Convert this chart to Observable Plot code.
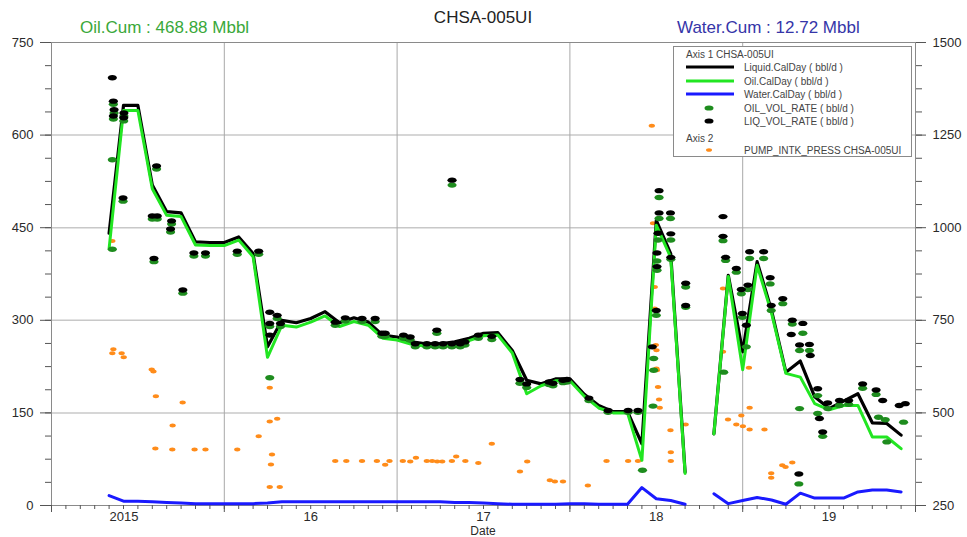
<!DOCTYPE html>
<html>
<head>
<meta charset="utf-8">
<script src="https://cdn.jsdelivr.net/npm/d3@7"></script>
<script src="https://cdn.jsdelivr.net/npm/@observablehq/plot@0.6"></script>
<style>
  html, body { margin: 0; padding: 0; background: #fff; }
  #wrap { position: relative; width: 967px; height: 537px; font-family: "Liberation Sans", Arial, sans-serif; overflow: hidden; }
  #wrap > svg { position: absolute; left: 0; top: 0; }
  .t { position: absolute; white-space: nowrap; line-height: 1; }
</style>
</head>
<body>
<div id="wrap"></div>
<script>
// ---------- data ----------
const wellName = "CHSA-005UI";
const oilCumText = "Oil.Cum : 468.88 Mbbl";
const waterCumText = "Water.Cum : 12.72 Mbbl";

const months = [
  "2015-05","2015-06","2015-07","2015-08","2015-09","2015-10","2015-11","2015-12",
  "2016-01","2016-02","2016-03","2016-04","2016-05","2016-06","2016-07","2016-08","2016-09","2016-10","2016-11","2016-12",
  "2017-01","2017-02","2017-03","2017-04","2017-05","2017-06","2017-07","2017-08","2017-09","2017-10","2017-11","2017-12",
  "2018-01","2018-02","2018-03","2018-04","2018-05","2018-06","2018-07","2018-08","2018-09","2018-10","2018-11","2018-12",
  "2019-01","2019-02","2019-03","2019-04","2019-05","2019-06","2019-07","2019-08","2019-09","2019-10","2019-11","2019-12"
];
const liquidCalDay = [441,648,648,519,476,474,427,426,
  426,435,408,257,300,296,303,314,296,304,297,276,
  273,265,262,262,265,271,279,280,251,203,197,205,
  205,180,162,152,152,100,462,408,54,null,116,373,
  249,395,316,216,234,176,157,169,181,134,133,114];
const oilCalDay = [416,640,640,513,470,468,422,421,
  421,430,403,240,292,289,297,307,290,298,292,271,
  268,261,258,257,260,267,275,276,247,181,194,202,
  202,177,158,150,150,73,454,402,52,null,116,371,
  220,389,312,214,208,165,155,162,162,111,111,92];
const waterCalDay = [16,7,7,6,5,4,3,3,
  3,3,3,4,6,6,6,6,6,6,6,6,
  6,6,6,6,5,5,4,3,2,2,2,2,
  3,3,2,2,2,29,11,8,2,null,19,3,
  8,13,9,2,20,12,12,12,22,25,25,22];

// [decimal year, bbl/d]
const liqVolRate = [
  [2015.352,693],[2015.358,655],[2015.362,641],[2015.358,631],[2015.419,636],[2015.418,628],[2015.414,498],[2015.608,550],
  [2015.583,469],[2015.612,469],[2015.695,461],[2015.689,448],[2015.593,400],[2015.760,349],[2015.824,409],[2015.891,409],
  [2016.075,412],[2016.199,412],[2016.263,313],[2016.306,308],[2016.263,295],[2016.325,295],[2016.263,276],[2016.642,297],
  [2016.700,304],[2016.797,303],[2016.873,303],[2016.912,279],[2016.931,279],[2017.037,276],[2017.076,273],[2017.105,262],
  [2017.172,262],[2017.220,262],[2017.266,262],[2017.317,262],[2017.365,262],[2017.230,284],[2017.318,527],[2017.393,265],
  [2017.470,276],[2017.548,274],[2017.711,204],[2017.750,197],[2017.879,200],[2017.902,198],[2017.960,203],[2017.983,204],
  [2018.110,174],[2018.221,154],[2018.337,154],[2018.394,154],[2018.516,510],[2018.516,474],[2018.510,441],[2018.504,409],
  [2018.504,387],[2018.500,316],[2018.477,257],[2018.582,474],[2018.584,440],[2018.584,402],[2018.670,360],[2018.670,324],
  [2018.886,468],[2018.886,436],[2018.901,402],[2018.963,384],[2018.992,350],[2018.998,311],[2019.021,292],[2019.040,411],
  [2019.121,411],[2019.030,357],[2019.159,369],[2019.165,324],[2019.232,335],[2019.287,300],[2019.281,277],[2019.348,295],
  [2019.329,260],[2019.386,261],[2019.391,243],[2019.434,189],[2019.444,141],[2019.463,119],[2019.325,51],[2019.492,166],
  [2019.560,170],[2019.613,170],[2019.694,197],[2019.772,187],[2019.810,170],[2019.906,162],[2019.941,165]
];
const oilVolRate = [
  [2015.352,560],[2015.352,415],[2015.358,650],[2015.362,636],[2015.358,626],[2015.419,631],[2015.418,623],[2015.414,493],
  [2015.608,545],[2015.583,464],[2015.612,464],[2015.695,456],[2015.689,443],[2015.593,395],[2015.760,344],[2015.824,404],
  [2015.891,404],[2016.075,407],[2016.199,407],[2016.263,207],[2016.306,303],[2016.263,290],[2016.325,290],[2016.642,292],
  [2016.700,299],[2016.797,298],[2016.873,298],[2016.912,274],[2016.931,274],[2017.037,271],[2017.076,268],[2017.105,257],
  [2017.172,257],[2017.220,257],[2017.266,257],[2017.317,257],[2017.365,257],[2017.230,279],[2017.318,519],[2017.393,260],
  [2017.470,271],[2017.548,269],[2017.711,198],[2017.750,191],[2017.879,196],[2017.902,194],[2017.960,199],[2017.983,200],
  [2018.110,170],[2018.221,151],[2018.337,151],[2018.394,151],[2018.420,57],[2018.516,499],[2018.516,465],[2018.510,430],
  [2018.504,396],[2018.504,381],[2018.500,308],[2018.485,238],[2018.485,219],[2018.481,161],[2018.582,465],[2018.584,430],
  [2018.584,399],[2018.670,354],[2018.670,321],[2018.886,429],[2018.901,397],[2018.890,216],[2018.963,378],[2018.992,343],
  [2018.998,305],[2019.021,257],[2019.040,400],[2019.121,400],[2019.030,350],[2019.159,359],[2019.165,316],[2019.232,327],
  [2019.287,294],[2019.348,279],[2019.329,251],[2019.386,251],[2019.329,157],[2019.434,178],[2019.434,149],[2019.463,112],
  [2019.325,35],[2019.492,157],[2019.560,162],[2019.613,164],[2019.694,190],[2019.772,180],[2019.786,143],[2019.825,139],
  [2019.834,103],[2019.931,135]
];
// [decimal year, psi] on axis 2
const pumpIntkPress = [
  [2015.352,964],[2015.358,672],[2015.352,661],[2015.406,661],[2015.418,650],[2015.580,617],[2015.590,612],[2015.604,545],
  [2015.701,466],[2015.601,404],[2015.699,401],[2015.759,528],[2015.828,401],[2015.891,401],[2016.075,401],[2016.199,437],
  [2016.263,568],[2016.263,477],[2016.306,484],[2016.276,388],[2016.270,361],[2016.263,300],[2016.321,300],[2016.642,370],
  [2016.706,370],[2016.797,370],[2016.883,370],[2016.931,360],[2016.956,370],[2017.033,370],[2017.076,369],[2017.109,379],
  [2017.172,370],[2017.203,370],[2017.232,369],[2017.261,369],[2017.317,370],[2017.342,382],[2017.395,370],[2017.470,365],
  [2017.548,417],[2017.711,342],[2017.753,369],[2017.884,318],[2017.913,315],[2017.960,315],[2018.104,304],[2018.212,370],
  [2018.337,370],[2018.394,370],[2018.474,1275],[2018.481,1012],[2018.491,840],[2018.491,782],[2018.497,683],[2018.501,669],
  [2018.501,620],[2018.504,615],[2018.510,570],[2018.516,536],[2018.520,514],[2018.582,453],[2018.584,394],[2018.584,370],
  [2018.670,469],[2018.886,836],[2018.886,665],[2018.915,482],[2018.963,469],[2018.992,493],[2019.001,464],[2019.036,622],
  [2019.040,514],[2019.040,455],[2019.126,455],[2019.165,337],[2019.165,325],[2019.229,359],[2019.248,354],[2019.287,366]
];

// axes
const xDomain = [2015, 2020];
const yLeftDomain = [0, 750];
const yRightDomain = [250, 1500];
const leftTicks = [0, 150, 300, 450, 600, 750];
const yearBounds = [2015, 2016, 2017, 2018, 2019, 2020];
const yearGrid = [2016, 2017, 2018, 2019];
const yearLabelPos = [2015.42, 2016.5, 2017.5, 2018.5, 2019.5];
const yearLabels = ["2015", "16", "17", "18", "19"];

const legendItems = [
  {label: "Liquid.CalDay ( bbl/d )", color: "#000000", kind: "line"},
  {label: "Oil.CalDay ( bbl/d )", color: "#22e622", kind: "line"},
  {label: "Water.CalDay ( bbl/d )", color: "#1a1aff", kind: "line"},
  {label: "OIL_VOL_RATE ( bbl/d )", color: "#1e8c1e", kind: "dot"},
  {label: "LIQ_VOL_RATE ( bbl/d )", color: "#000000", kind: "dot"},
  {label: "PUMP_INTK_PRESS CHSA-005UI", color: "#ff8c1a", kind: "small"}
];

// ---------- helpers ----------
const monthToYear = s => { const [y, m] = s.split("-").map(Number); return y + (m - 1) / 12; };
const toLeft = p => (p - yRightDomain[0]) * (yLeftDomain[1] - yLeftDomain[0]) / (yRightDomain[1] - yRightDomain[0]);
const fromLeft = v => yRightDomain[0] + v * (yRightDomain[1] - yRightDomain[0]) / (yLeftDomain[1] - yLeftDomain[0]);

const monthly = months.map((m, i) => ({t: monthToYear(m), liq: liquidCalDay[i], oil: oilCalDay[i], wat: waterCalDay[i]}));
const liqPts = liqVolRate.map(([t, v]) => ({t, v}));
const oilPts = oilVolRate.map(([t, v]) => ({t, v}));
const pressPts = pumpIntkPress.map(([t, p]) => ({t, v: toLeft(p)}));

const ellipse = (rx, ry) => ({
  draw(ctx) {
    const k = 0.5523;
    ctx.moveTo(rx, 0);
    ctx.bezierCurveTo(rx, ry * k, rx * k, ry, 0, ry);
    ctx.bezierCurveTo(-rx * k, ry, -rx, ry * k, -rx, 0);
    ctx.bezierCurveTo(-rx, -ry * k, -rx * k, -ry, 0, -ry);
    ctx.bezierCurveTo(rx * k, -ry, rx, -ry * k, rx, 0);
    ctx.closePath();
  }
});

const minorY = d3.range(yLeftDomain[0], yLeftDomain[1] + 0.01, 37.5);
const monthTicks = d3.range(0, 61).map(i => xDomain[0] + i / 12);
const labelMap = new Map(yearLabelPos.map((p, i) => [p, yearLabels[i]]));

const plot = Plot.plot({
  width: 967,
  height: 537,
  marginLeft: 51,
  marginRight: 52,
  marginTop: 42,
  marginBottom: 32,
  x: {type: "linear", domain: xDomain},
  y: {domain: yLeftDomain},
  style: {fontFamily: "'Liberation Sans', Arial, sans-serif", fontSize: "13px", color: "#2a2a2a", background: "transparent"},
  marks: [
    Plot.ruleY(leftTicks.slice(1, -1), {stroke: "#c8c8c8", strokeWidth: 1.5}),
    Plot.ruleX(yearGrid, {stroke: "#a8a8a8", strokeWidth: 1}),
    Plot.frame({stroke: "#8a8a8a"}),
    Plot.axisY({ticks: leftTicks, tickSize: 11, tickPadding: 7, tickFormat: d => String(d), label: null, stroke: "#555"}),
    Plot.axisY({ticks: minorY, tickSize: 6, tickFormat: () => "", label: null, stroke: "#555"}),
    Plot.axisY({anchor: "right", ticks: leftTicks, tickSize: 10, tickPadding: 7, tickFormat: d => String(Math.round(fromLeft(d))), label: null, stroke: "#555"}),
    Plot.axisY({anchor: "right", ticks: minorY, tickSize: 6, tickFormat: () => "", label: null, stroke: "#555"}),
    Plot.axisX({ticks: yearBounds, tickSize: 7, tickFormat: () => "", label: null, stroke: "#555"}),
    Plot.axisX({ticks: monthTicks, tickSize: 4, tickFormat: () => "", label: null, stroke: "#555"}),
    Plot.axisX({ticks: yearLabelPos, tickSize: 0, tickPadding: 6, tickFormat: d => labelMap.get(d), label: null}),
    Plot.dot(pressPts, {x: "t", y: "v", symbol: ellipse(3.2, 2), fill: "#ff8c1a"}),
    Plot.line(monthly, {x: "t", y: "wat", stroke: "#1a1aff", strokeWidth: 3, defined: d => d.wat != null}),
    Plot.line(monthly, {x: "t", y: "liq", stroke: "#000", strokeWidth: 3.2, defined: d => d.liq != null}),
    Plot.line(monthly, {x: "t", y: "oil", stroke: "#22e622", strokeWidth: 3, defined: d => d.oil != null}),
    Plot.dot(oilPts, {x: "t", y: "v", symbol: ellipse(4.6, 2.7), fill: "#1e8c1e"}),
    Plot.dot(liqPts, {x: "t", y: "v", symbol: ellipse(4.6, 2.7), fill: "#000"})
  ]
});

const wrap = document.getElementById("wrap");
wrap.appendChild(plot);

function addText(txt, css) {
  const d = document.createElement("div");
  d.className = "t";
  d.textContent = txt;
  Object.assign(d.style, css);
  wrap.appendChild(d);
  return d;
}
addText(wellName, {left: "483px", top: "9px", transform: "translateX(-50%)", fontSize: "17px", color: "#222"});
addText(oilCumText, {left: "80px", top: "19px", fontSize: "17px", color: "#3aa83a"});
addText(waterCumText, {left: "677px", top: "19px", fontSize: "17px", color: "#3535a8"});
addText("Date", {left: "483px", top: "525px", transform: "translateX(-50%)", fontSize: "12px", color: "#2a2a2a"});

// legend
const leg = d3.select(wrap).append("svg")
  .attr("width", 240).attr("height", 112)
  .style("position", "absolute").style("left", "673px").style("top", "46px")
  .style("font-family", "'Liberation Sans', Arial, sans-serif").style("font-size", "10px");
leg.append("rect").attr("x", 0.5).attr("y", 0.5).attr("width", 238).attr("height", 110)
  .attr("fill", "#fff").attr("stroke", "#8a8a8a");
leg.append("text").attr("x", 13).attr("y", 12).attr("fill", "#444").text("Axis 1  " + wellName);
leg.append("text").attr("x", 13).attr("y", 96).attr("fill", "#444").text("Axis 2");
const rowY = [21, 35, 48, 62, 75, 104];
legendItems.forEach((it, i) => {
  const y = rowY[i];
  if (it.kind === "line") {
    leg.append("line").attr("x1", 13).attr("x2", 61).attr("y1", y).attr("y2", y)
      .attr("stroke", it.color).attr("stroke-width", 3);
  } else {
    const rx = it.kind === "dot" ? 4.5 : 3, ry = it.kind === "dot" ? 2.6 : 1.8;
    leg.append("ellipse").attr("cx", 36).attr("cy", y).attr("rx", rx).attr("ry", ry).attr("fill", it.color);
  }
  leg.append("text").attr("x", 71).attr("y", y + 3.5).attr("fill", "#444").text(it.label);
});
</script>
</body>
</html>
